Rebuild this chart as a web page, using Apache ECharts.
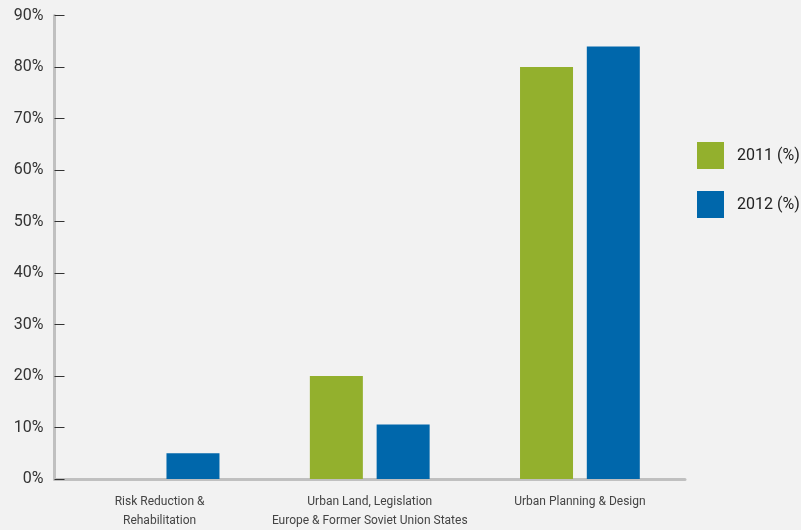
<!DOCTYPE html>
<html>
<head>
<meta charset="utf-8">
<script src="https://cdn.jsdelivr.net/npm/echarts@6/dist/echarts.min.js"></script>
<style>
html,body{margin:0;padding:0;background:#f2f2f2;}
#c{width:801px;height:530px;}
</style>
</head>
<body>
<div id="c"></div>
<script>
const categories = ['Risk Reduction &\nRehabilitation', 'Urban Land, Legislation\nEurope & Former Soviet Union States', 'Urban Planning & Design'];
const seriesNames = ['2011 (%)', '2012 (%)'];
const values2011 = [null, 20, 80];
const values2012 = [5, 10.6, 84];
const yTicks = {min: 0, max: 90, interval: 10};

const chart = echarts.init(document.getElementById('c'), null, {renderer: 'canvas'});
const FONT = 'Roboto';
chart.setOption({
  backgroundColor: '#f2f2f2',
  animation: false,
  textStyle: {fontFamily: FONT},
  grid: {left: 54.5, right: 116, top: 15.5, bottom: 49, containLabel: false},
  legend: {
    orient: 'vertical', left: 697, top: 142, padding: 0,
    itemWidth: 27, itemHeight: 27, itemGap: 22, icon: 'rect',
    textStyle: {fontSize: 16, color: '#222', fontFamily: FONT, padding: [0, 0, 0, 8]},
    data: seriesNames
  },
  xAxis: {
    type: 'category', data: categories, boundaryGap: true, offset: 3,
    axisLine: {lineStyle: {color: '#c0c0c0', width: 3}},
    axisTick: {inside: true, length: 10, lineStyle: {color: '#333', width: 1}},
    axisLabel: {fontSize: 12, color: '#444', lineHeight: 19, margin: 10, fontFamily: FONT, interval: 0}
  },
  yAxis: {
    type: 'value', min: yTicks.min, max: yTicks.max, interval: yTicks.interval,
    axisLine: {show: true, lineStyle: {color: '#c0c0c0', width: 3}},
    axisTick: {show: true, inside: true, length: 10, lineStyle: {color: '#333', width: 1}},
    splitLine: {show: false},
    axisLabel: {formatter: '{value}%', fontSize: 16, color: '#333', margin: 11, fontFamily: FONT}
  },
  series: [
    {name: seriesNames[0], type: 'bar', data: values2011, barWidth: 53, barGap: '26%', itemStyle: {color: '#93b02d'}},
    {name: seriesNames[1], type: 'bar', data: values2012, barWidth: 53, barGap: '26%', itemStyle: {color: '#0067ab'}}
  ]
});
</script>
</body>
</html>
